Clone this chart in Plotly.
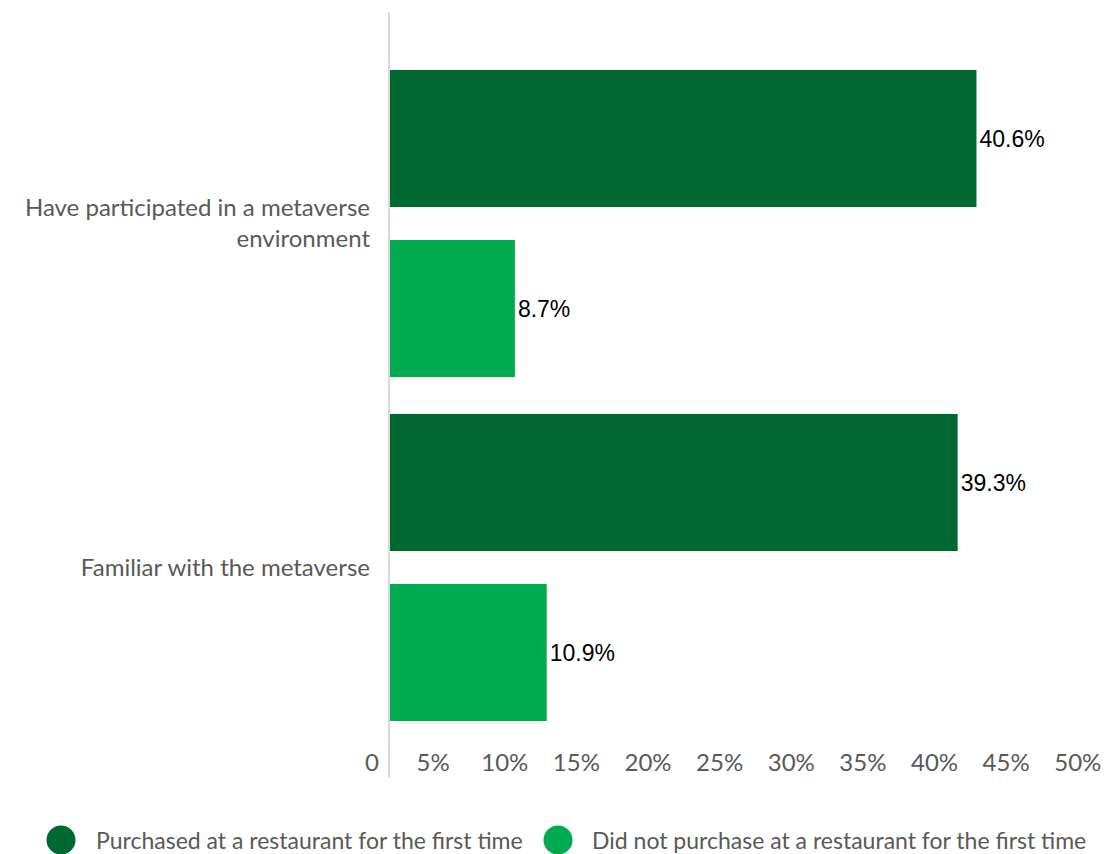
import plotly.graph_objects as go

# Survey groups (top to bottom) and the share of each group per outcome
categories = ["Have participated in a metaverse<br>environment", "Familiar with the metaverse"]
purchased = [40.6, 39.3]
not_purchased = [8.7, 10.9]
series_names = [
    "Purchased at a restaurant for the first time",
    "Did not purchase at a restaurant for the first time",
]
tick_pct = [0, 5, 10, 15, 20, 25, 30, 35, 40, 45, 50]
tick_text = ["0", "5%", "10%", "15%", "20%", "25%", "30%", "35%", "40%", "45%", "50%"]

DARK = "#00692F"
LIGHT = "#00AA4E"
GREY_TEXT = "#595959"
AXIS_LINE = "#D9D9D9"

W, H = 1104, 854
M_L, M_R, M_T, M_B = 371, 0, 12, 108
PLOT_W = W - M_L - M_R
PLOT_H = H - M_T - M_B
PX_PER_PCT = 14.47
ZERO_PX = 389

x_min = -(ZERO_PX - M_L) / PX_PER_PCT
x_max = x_min + PLOT_W / PX_PER_PCT

# Value labels sit a little left of their nominal value on this axis
tickvals = [-1.17 if p == 0 else 0.99 * p - 1.9 for p in tick_pct]

# Category axis: 344 px per category, groups centred at 223.5 px and 567.5 px
unit = 344.0
y_top = -(223.5 - M_T) / unit
y_bottom = 1 + ((H - M_B) - 567.5) / unit

fig = go.Figure()
for vals, name, color in [(purchased, series_names[0], DARK), (not_purchased, series_names[1], LIGHT)]:
    fig.add_trace(go.Bar(
        y=categories,
        x=vals,
        orientation="h",
        name=name,
        marker=dict(color=color, line=dict(width=0)),
        text=[f"{v}%" for v in vals],
        textposition="outside",
        textfont=dict(family="Arial", size=23, color="#000000"),
        cliponaxis=False,
        showlegend=False,
    ))


def px_x(px):
    return (px - M_L) / PLOT_W


def px_y(py):
    return ((H - M_B) - py) / PLOT_H


# Vertical baseline at zero, running below the bars to the tick labels
shapes = [dict(
    type="line", xref="x", yref="paper",
    x0=0, x1=0, y0=px_y(778), y1=1,
    line=dict(color=AXIS_LINE, width=2),
)]

# Legend: round swatches with labels
annotations = []
legend_items = [(61, 94, DARK, series_names[0]), (558, 590, LIGHT, series_names[1])]
for cx, tx, color, name in legend_items:
    shapes.append(dict(
        type="circle", xref="paper", yref="paper",
        xsizemode="pixel", ysizemode="pixel",
        xanchor=px_x(cx), yanchor=px_y(840),
        x0=-14.5, x1=14.5, y0=-14.5, y1=14.5,
        fillcolor=color, line=dict(width=0),
    ))
    annotations.append(dict(
        xref="paper", yref="paper",
        x=px_x(tx), y=px_y(840),
        xanchor="left", yanchor="middle",
        text=name, showarrow=False,
        font=dict(family="Lato", size=23, color=GREY_TEXT),
    ))

fig.update_layout(
    width=W, height=H,
    margin=dict(l=M_L, r=M_R, t=M_T, b=M_B, pad=0),
    paper_bgcolor="white",
    plot_bgcolor="white",
    barmode="group",
    bargap=0.0116,
    bargroupgap=0.194,
    showlegend=False,
    shapes=shapes,
    annotations=annotations,
    font=dict(family="Lato", size=24, color=GREY_TEXT),
)
fig.update_xaxes(
    range=[x_min, x_max],
    tickmode="array",
    tickvals=tickvals,
    ticktext=tick_text,
    showgrid=False,
    zeroline=False,
    showline=False,
    ticks="",
    automargin=False,
    tickfont=dict(family="Lato", size=24, color=GREY_TEXT),
)
fig.update_yaxes(
    type="category",
    categoryorder="array",
    categoryarray=categories,
    range=[y_bottom, y_top],
    showgrid=False,
    zeroline=False,
    showline=False,
    ticks="",
    automargin=False,
    tickfont=dict(family="Lato", size=24, color=GREY_TEXT),
)

fig.write_html("out.html")
